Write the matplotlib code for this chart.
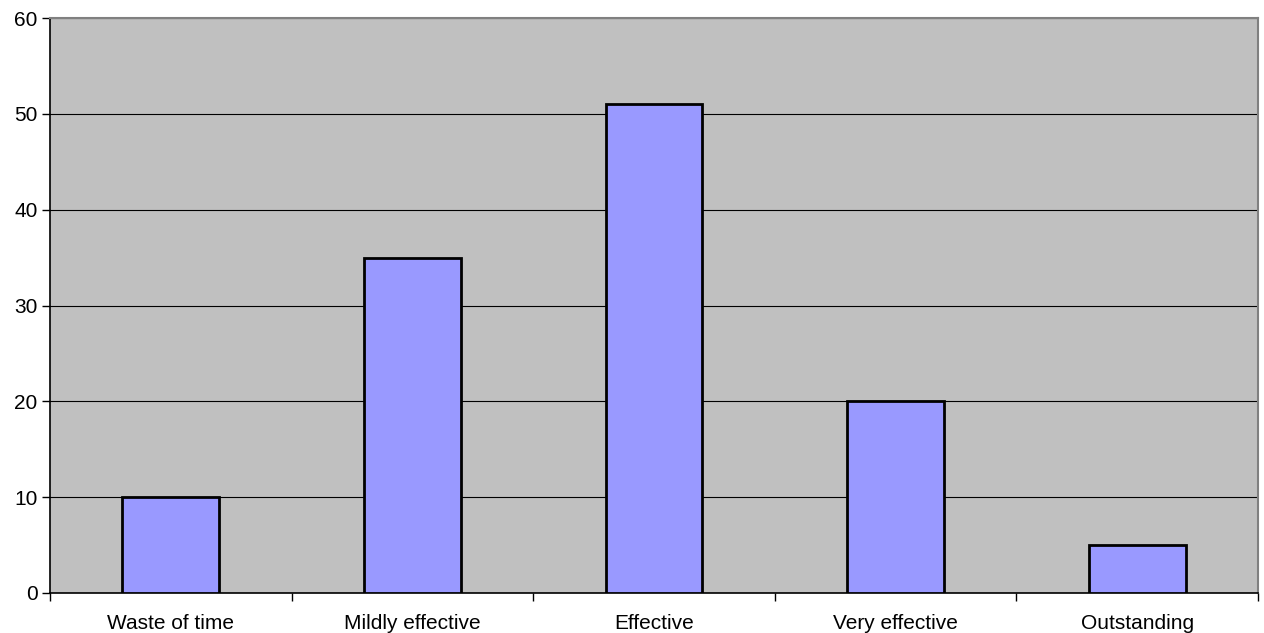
import matplotlib
matplotlib.use("Agg")
import matplotlib.pyplot as plt
import numpy as np

categorias = ["Waste of time", "Mildly effective", "Effective", "Very effective", "Outstanding"]
valores = [10, 35, 51, 20, 5]
marcas_y = [0, 10, 20, 30, 40, 50, 60]

plt.rcParams["font.family"] = ["Liberation Sans", "DejaVu Sans"]
plt.rcParams["font.size"] = 15

fig = plt.figure(figsize=(12.64, 6.33), dpi=100)
ax = fig.add_axes([50 / 1264, 40 / 633, 1208 / 1264, 575 / 633])
ax.set_facecolor("#C0C0C0")

x = np.arange(len(categorias))
ax.bar(x, valores, width=0.4, color="#9999FF", edgecolor="black", linewidth=2, zorder=3)

ax.set_xlim(-0.5, len(categorias) - 0.5)
ax.set_ylim(0, 60)
ax.set_yticks(marcas_y)
ax.yaxis.grid(True, color="black", linewidth=0.8, zorder=0)
ax.set_axisbelow(True)

# rótulos no centro, marcas nos limites das categorias
ax.set_xticks(x)
ax.set_xticklabels(categorias)
ax.tick_params(axis="x", length=0, pad=15)
ax.set_xticks(np.arange(-0.5, len(categorias)), minor=True)
ax.tick_params(axis="x", which="minor", length=6, width=1, direction="out")
ax.tick_params(axis="y", length=6, width=1, direction="out", pad=3)

for lado in ["top", "right"]:
    ax.spines[lado].set_color("#808080")
    ax.spines[lado].set_linewidth(1.5)
for lado in ["left", "bottom"]:
    ax.spines[lado].set_color("black")
    ax.spines[lado].set_linewidth(1.2)

fig.savefig("out.png", dpi=100)
